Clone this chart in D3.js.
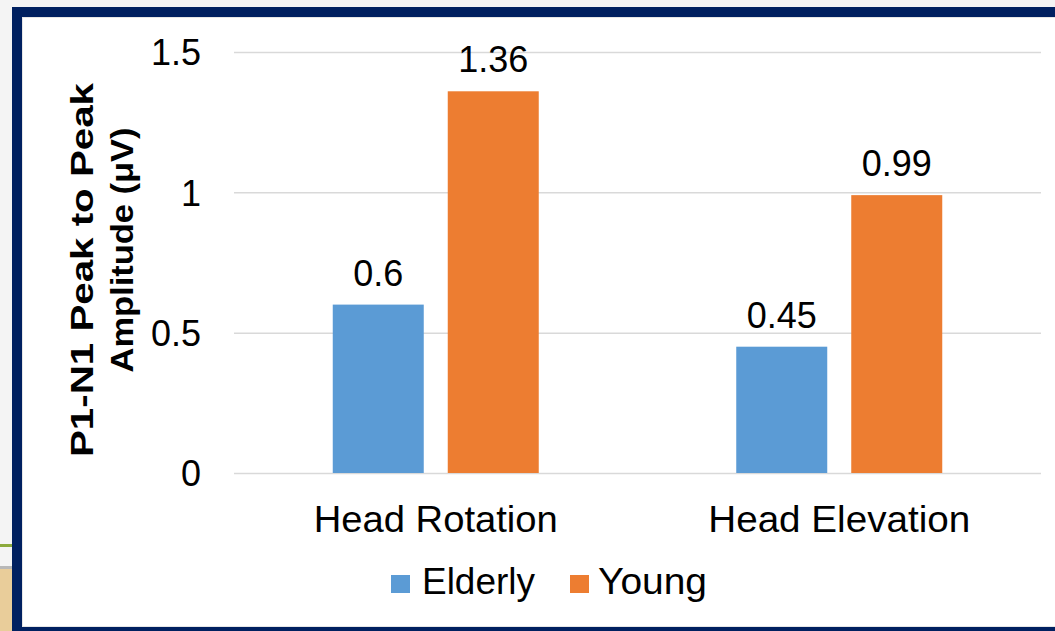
<!DOCTYPE html>
<html>
<head>
<meta charset="utf-8">
<script src="https://cdn.jsdelivr.net/npm/d3@7"></script>
<style>
  html, body { margin: 0; padding: 0; background: #f3f3f3; }
  svg { display: block; }
  text { font-family: "Liberation Sans", Arial, sans-serif; fill: #000; }
</style>
</head>
<body>
<svg id="chart" width="1055" height="631"></svg>
<script>
const categories = ["Head Rotation", "Head Elevation"];
const seriesNames = ["Elderly", "Young"];
const elderlyValues = [0.6, 0.45];
const youngValues = [1.36, 0.99];
const yTicks = [0, 0.5, 1, 1.5];
const yTickLabels = ["0", "0.5", "1", "1.5"];
const titleLines = ["P1-N1  Peak to Peak", "Amplitude (\u03bcV)"];

const colors = { Elderly: "#5b9bd5", Young: "#ed7d31" };
const seriesValues = { Elderly: elderlyValues, Young: youngValues };

const svg = d3.select("#chart");

// slide background pieces
svg.append("rect").attr("x", 0).attr("y", 0).attr("width", 1055).attr("height", 631).attr("fill", "#f4f4f4");
svg.append("rect").attr("x", 0).attr("y", 568).attr("width", 14).attr("height", 63).attr("fill", "#e9cd9a");
svg.append("rect").attr("x", 0).attr("y", 566).attr("width", 14).attr("height", 3).attr("fill", "#b8b8b8");
svg.append("rect").attr("x", 0).attr("y", 544).attr("width", 14).attr("height", 3).attr("fill", "#8caa3c");

// frame
svg.append("rect").attr("x", 12).attr("y", 7).attr("width", 1060).attr("height", 640).attr("fill", "#002060");
svg.append("rect").attr("x", 22).attr("y", 17).attr("width", 1040).attr("height", 610).attr("fill", "#e6e6e6");
svg.append("rect").attr("x", 23).attr("y", 18).attr("width", 1040).attr("height", 608).attr("fill", "#ffffff");

const x0 = d3.scaleBand().domain(categories).range([234, 1041]).paddingInner(0).paddingOuter(0);
const x1 = d3.scaleBand().domain(seriesNames).range([0, x0.bandwidth()])
  .paddingInner(24 / 115).paddingOuter(98.75 / 115);
const y = d3.scaleLinear().domain([0, 1.5]).range([473, 52]);

// gridlines
const yAxis = d3.axisLeft(y).tickValues(yTicks)
  .tickSize(-(1041 - 234))
  .tickFormat((d, i) => yTickLabels[i]);
const gAxis = svg.append("g").attr("transform", "translate(234,0)").call(yAxis);
gAxis.select(".domain").remove();
gAxis.selectAll(".tick line").attr("stroke", "#d9d9d9").attr("stroke-width", 1.5);
gAxis.selectAll(".tick text")
  .attr("x", -33).attr("dy", "0.36em")
  .style("font-size", "36px").attr("fill", "#000");

// bars
const groups = svg.append("g").selectAll("g").data(categories).join("g")
  .attr("transform", d => `translate(${x0(d)},0)`);

groups.selectAll("rect")
  .data((c, ci) => seriesNames.map(s => ({ s, v: seriesValues[s][ci] })))
  .join("rect")
  .attr("x", d => x1(d.s))
  .attr("width", x1.bandwidth())
  .attr("y", d => y(d.v))
  .attr("height", d => y(0) - y(d.v))
  .attr("fill", d => colors[d.s]);

groups.selectAll("text.lbl")
  .data((c, ci) => seriesNames.map(s => ({ s, v: seriesValues[s][ci] })))
  .join("text")
  .attr("class", "lbl")
  .attr("x", d => x1(d.s) + x1.bandwidth() / 2)
  .attr("y", d => y(d.v) - 19)
  .attr("text-anchor", "middle")
  .style("font-size", "36px")
  .text(d => String(d.v));

// category labels
const catLens = [244, 262];
svg.append("g").selectAll("text").data(categories).join("text")
  .attr("x", d => x0(d) + x0.bandwidth() / 2)
  .attr("y", 532)
  .attr("text-anchor", "middle")
  .style("font-size", "36px")
  .attr("textLength", (d, i) => catLens[i])
  .attr("lengthAdjust", "spacingAndGlyphs")
  .text(d => d);

// y title
const titleCenters = [{ x: 93, cy: 270, len: 374 }, { x: 133, cy: 250, len: 245 }];
svg.append("g").selectAll("text").data(titleLines).join("text")
  .attr("transform", (d, i) => `translate(${titleCenters[i].x},${titleCenters[i].cy}) rotate(-90)`)
  .attr("text-anchor", "middle")
  .style("font-size", "31px").style("font-weight", "bold")
  .attr("textLength", (d, i) => titleCenters[i].len)
  .attr("lengthAdjust", "spacingAndGlyphs")
  .text(d => d);

// legend
const legendPos = [{ sx: 391, tx: 422, len: 113 }, { sx: 570, tx: 598, len: 109 }];
const leg = svg.append("g").selectAll("g").data(seriesNames).join("g");
leg.append("rect")
  .attr("x", (d, i) => legendPos[i].sx).attr("y", 575)
  .attr("width", 19).attr("height", 18)
  .attr("fill", d => colors[d]);
leg.append("text")
  .attr("x", (d, i) => legendPos[i].tx).attr("y", 594)
  .style("font-size", "37px")
  .attr("textLength", (d, i) => legendPos[i].len)
  .attr("lengthAdjust", "spacingAndGlyphs")
  .text(d => d);
</script>
</body>
</html>
